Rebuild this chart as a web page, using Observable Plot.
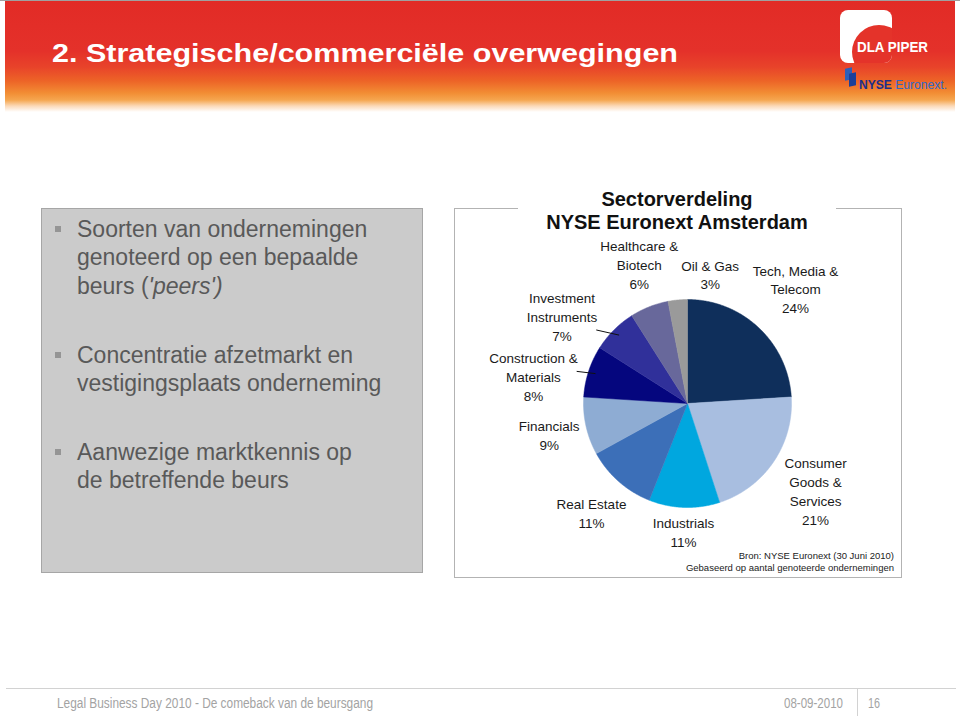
<!DOCTYPE html>
<html>
<head>
<meta charset="utf-8">
<script src="https://cdn.jsdelivr.net/npm/d3@7"></script>
<script src="https://cdn.jsdelivr.net/npm/@observablehq/plot@0.6"></script>
<style>
html, body { margin: 0; padding: 0; background: #fff; }
#slide { position: relative; width: 960px; height: 716px; overflow: hidden; background: #fff;
  font-family: "Liberation Sans", Arial, Helvetica, sans-serif; }
.abs { position: absolute; white-space: nowrap; }
#banner { left: 5px; top: 1px; width: 950px; height: 112px;
  background: linear-gradient(to bottom, #e22b26 0px, #e4312a 50px, #e8432a 66px, #ed6427 80px, #f28d34 92px, #f5a64f 99px, #fbd9b8 105px, #ffffff 111px); }
#leftbox { left: 41px; top: 208px; width: 382px; height: 365px; box-sizing: border-box;
  background: #cbcbcb; border: 1px solid #a6a6a6; }
#chartbox { left: 454px; top: 208px; width: 448px; height: 370px; box-sizing: border-box;
  border: 1px solid #b3b3b3; background: #fff; }
.bullet { position: absolute; width: 6px; height: 6px; background: #959595; }
.para { position: absolute; left: 77px; font-size: 23px; line-height: 28.5px; color: #595959; white-space: nowrap; }
</style>
</head>
<body>
<div id="slide">
  <div class="abs" style="left:0;top:0;width:960px;height:1px;background:#a0a0a0"></div>
  <div id="banner" class="abs"></div>
  <div id="slideTitle" class="abs" style="color:#fff;font-weight:bold;font-size:26px;transform-origin:0 0">2. Strategische/commerciële overwegingen</div>

  <!-- DLA Piper logo -->
  <div class="abs" style="left:840px;top:10px;width:52px;height:53px;background:#fff;border-radius:8px;overflow:hidden">
    <div style="position:absolute;left:12px;top:15px;width:54px;height:54px;border-radius:50%;background:#e4332a"></div>
  </div>
  <div id="dla" class="abs" style="color:#fff;font-weight:bold;font-size:14px;transform-origin:0 0">DLA PIPER</div>
  <!-- NYSE Euronext logo -->
  <div class="abs" style="left:845px;top:68px;width:7px;height:12px;background:#2e5fb8;transform:skewY(-12deg)"></div>
  <div class="abs" style="left:849px;top:73px;width:7px;height:13px;background:#1b3f99;transform:skewY(-12deg)"></div>
  <div id="nyse" class="abs" style="font-size:12px;transform-origin:0 0"><b style="color:#1c2f8c">NYSE</b> <span style="color:#2f67c8">Euronext</span><span style="color:#2f67c8">.</span></div>

  <div id="leftbox" class="abs"></div>
  <div id="chartbox" class="abs"></div>
  <div class="abs" style="left:518px;top:203px;width:318px;height:10px;background:#fff"></div>
  <div id="plotHolder" class="abs" style="left:454px;top:208px;width:447px;height:369px"></div>

  <div class="abs" style="left:6px;top:688px;width:950px;height:1px;background:#d2d2d2"></div>
  <div class="abs" style="left:857px;top:688px;width:1px;height:28px;background:#d2d2d2"></div>
</div>

<script>
// ---------------- data ----------------
const sectors = [
  "Tech, Media & Telecom",
  "Consumer Goods & Services",
  "Industrials",
  "Real Estate",
  "Financials",
  "Construction & Materials",
  "Investment Instruments",
  "Healthcare & Biotech",
  "Oil & Gas"
];
const shares = [24, 21, 11, 11, 9, 8, 7, 6, 3];
const labelLines = [
  ["Tech, Media &", "Telecom"],
  ["Consumer", "Goods &", "Services"],
  ["Industrials"],
  ["Real Estate"],
  ["Financials"],
  ["Construction &", "Materials"],
  ["Investment", "Instruments"],
  ["Healthcare &", "Biotech"],
  ["Oil & Gas"]
];
const sliceColors = ["#0f2f5b", "#a8bee0", "#00a7df", "#3c6fb8", "#8eacd3", "#05067e", "#30309a", "#68689b", "#9a9a9a"];

const chartTitle = ["Sectorverdeling", "NYSE Euronext Amsterdam"];
const sourceNote = ["Bron: NYSE Euronext (30 Juni 2010)", "Gebaseerd op aantal genoteerde ondernemingen"];
const bulletPoints = [
  ["Soorten van ondernemingen", "genoteerd op een bepaalde", "beurs (<i>'peers')</i>"],
  ["Concentratie afzetmarkt en", "vestigingsplaats onderneming"],
  ["Aanwezige marktkennis op", "de betreffende beurs"]
];
const footerText = "Legal Business Day 2010 - De comeback van de beursgang";
const footerDate = "08-09-2010";
const pageNumber = "16";

// ---------------- helpers ----------------
const slide = document.getElementById("slide");
const cv = document.createElement("canvas").getContext("2d");
function measure(text, font) { cv.font = font; return cv.measureText(text).width; }
const FONT = '"Liberation Sans", Arial, sans-serif';

function placeText(html, x, baseline, size, css, anchor, fitWidth) {
  const el = document.createElement("div");
  el.className = "abs";
  el.innerHTML = html;
  el.style.fontSize = size + "px";
  el.style.lineHeight = size + "px";
  el.style.top = (baseline - 0.8465 * size) + "px";
  Object.assign(el.style, css || {});
  slide.appendChild(el);
  const w = el.getBoundingClientRect().width;
  let sx = 1;
  if (fitWidth) sx = fitWidth / w;
  const rw = w * sx;
  const left = anchor === "end" ? x - rw : anchor === "middle" ? x - rw / 2 : x;
  el.style.left = left + "px";
  el.style.transformOrigin = "0 0";
  if (sx !== 1) el.style.transform = `scaleX(${sx})`;
  return el;
}

// slide title (stretched like the slide rendering)
(function () {
  const t = document.getElementById("slideTitle");
  t.style.lineHeight = "26px";
  t.style.top = (62 - 0.8465 * 26) + "px";
  t.style.left = "52px";
  const w = t.getBoundingClientRect().width;
  t.style.transform = `scaleX(${626 / w})`;
  const d = document.getElementById("dla");
  d.style.lineHeight = "14px"; d.style.top = (52 - 0.8465 * 14) + "px"; d.style.left = "857px";
  d.style.transform = `scaleX(${71 / d.getBoundingClientRect().width})`;
  const n = document.getElementById("nyse");
  n.style.lineHeight = "12px"; n.style.top = (89 - 0.8465 * 12) + "px"; n.style.left = "859px";
  n.style.transform = `scaleX(${88 / n.getBoundingClientRect().width})`;
})();

// bullets in the grey box
const paraBaselines = [237, 363, 460];
bulletPoints.forEach((lines, i) => {
  const p = document.createElement("div");
  p.className = "para";
  p.innerHTML = lines.join("<br>");
  p.style.top = (paraBaselines[i] - 22.2) + "px";
  slide.appendChild(p);
  const b = document.createElement("div");
  b.className = "bullet";
  b.style.left = "55px";
  b.style.top = (paraBaselines[i] - 11) + "px";
  slide.appendChild(b);
});

// chart title + source
placeText(chartTitle[0], 677, 206, 20, { fontWeight: "bold", color: "#111" }, "middle");
placeText(chartTitle[1], 677, 228.5, 20, { fontWeight: "bold", color: "#111" }, "middle");
placeText(sourceNote[0], 894, 559, 9.5, { color: "#222" }, "end");
placeText(sourceNote[1], 894, 571, 9.5, { color: "#222" }, "end");

// footer
placeText(footerText, 57, 708, 14, { color: "#a3a3a3" }, "start", 316);
placeText(footerDate, 843, 708, 14, { color: "#a3a3a3" }, "end", 59);
placeText(pageNumber, 868, 708, 14, { color: "#a3a3a3" }, "start", 12);

// ---------------- pie chart ----------------
const W = 447, H = 369, CX = 233, CY = 195, R = 104;
const pie = d3.pie().sort(null).value(d => d)(shares);

const sliceRows = [];
pie.forEach((p, i) => {
  const n = Math.max(2, Math.ceil((p.endAngle - p.startAngle) / (Math.PI / 360)));
  sliceRows.push({ sector: sectors[i], x: 0, y: 0 });
  for (let k = 0; k <= n; k++) {
    const a = p.startAngle + (p.endAngle - p.startAngle) * k / n;
    sliceRows.push({ sector: sectors[i], x: Math.sin(a), y: Math.cos(a) });
  }
  sliceRows.push({ sector: sectors[i], x: 0, y: 0 });
});

// label layout: outside end at mid angle, then resolve overlaps by rotating
const FS = 13.5, LH = 18.8, GAP = 4, PAD = 3;
const lfont = `${FS}px ${FONT}`;
const labels = pie.map((p, i) => {
  const lines = [...labelLines[i], `${shares[i]}%`];
  const w = d3.max(lines, s => measure(s, lfont));
  const h = lines.length * LH;
  const mid = (p.startAngle + p.endAngle) / 2;
  return { i, lines, w, h, mid, theta: mid };
});
function centerOf(l) {
  const s = Math.sin(l.theta), c = Math.cos(l.theta);
  const ext = Math.abs(s) * l.w / 2 + Math.abs(c) * l.h / 2;
  const d = R + GAP + ext;
  return [d * s, -d * c];
}
function boxOf(l) {
  const [cx, cy] = centerOf(l);
  return [cx - l.w / 2, cy - l.h / 2, cx + l.w / 2, cy + l.h / 2];
}
for (let it = 0; it < 3000; it++) {
  let moved = false;
  for (let a = 0; a < labels.length; a++) for (let b = a + 1; b < labels.length; b++) {
    const A = boxOf(labels[a]), B = boxOf(labels[b]);
    if (A[0] < B[2] + PAD && B[0] < A[2] + PAD && A[1] < B[3] + PAD && B[1] < A[3] + PAD) {
      let diff = labels[b].theta - labels[a].theta;
      diff = Math.atan2(Math.sin(diff), Math.cos(diff));
      const st = 0.002;
      if (diff >= 0) { labels[a].theta -= st; labels[b].theta += st; }
      else { labels[a].theta += st; labels[b].theta -= st; }
      moved = true;
    }
  }
  if (!moved) break;
}
const labelRows = labels.map(l => {
  const [cx, cy] = centerOf(l);
  return { text: l.lines.join("\n"), x: cx / R, y: -cy / R };
});
const leaderRows = [];
labels.forEach(l => {
  const bx = boxOf(l);
  const ax = R * Math.sin(l.mid), ay = -R * Math.cos(l.mid);
  const nx = Math.max(bx[0], Math.min(ax, bx[2])), ny = Math.max(bx[1], Math.min(ay, bx[3]));
  const dist = Math.hypot(nx - ax, ny - ay);
  if (Math.abs(l.theta - l.mid) > 0.1 && dist > 9) {
    const ix = 0.93 * ax, iy = 0.93 * ay;
    leaderRows.push({ x1: ix / R, y1: -iy / R, x2: (nx - 1) / R, y2: -ny / R });
  }
});

const chart = Plot.plot({
  width: W, height: H,
  marginLeft: CX - R, marginRight: W - CX - R,
  marginTop: CY - R, marginBottom: H - CY - R,
  x: { domain: [-1, 1], axis: null },
  y: { domain: [-1, 1], axis: null },
  color: { domain: sectors, range: sliceColors },
  style: { background: "transparent", fontFamily: FONT, overflow: "visible" },
  marks: [
    Plot.line(sliceRows, { x: "x", y: "y", z: "sector", fill: "sector", stroke: "sector", strokeWidth: 0.5, curve: "linear" }),
    Plot.link(leaderRows, { x1: "x1", y1: "y1", x2: "x2", y2: "y2", stroke: "#111", strokeWidth: 1 }),
    Plot.text(labelRows, { x: "x", y: "y", text: "text", textAnchor: "middle", lineAnchor: "middle",
      lineHeight: LH / FS, fontSize: FS, fill: "#1a1a1a" })
  ]
});
chart.style.position = "absolute";
chart.style.left = "0px";
chart.style.top = "0px";
document.getElementById("plotHolder").appendChild(chart);
</script>
</body>
</html>
